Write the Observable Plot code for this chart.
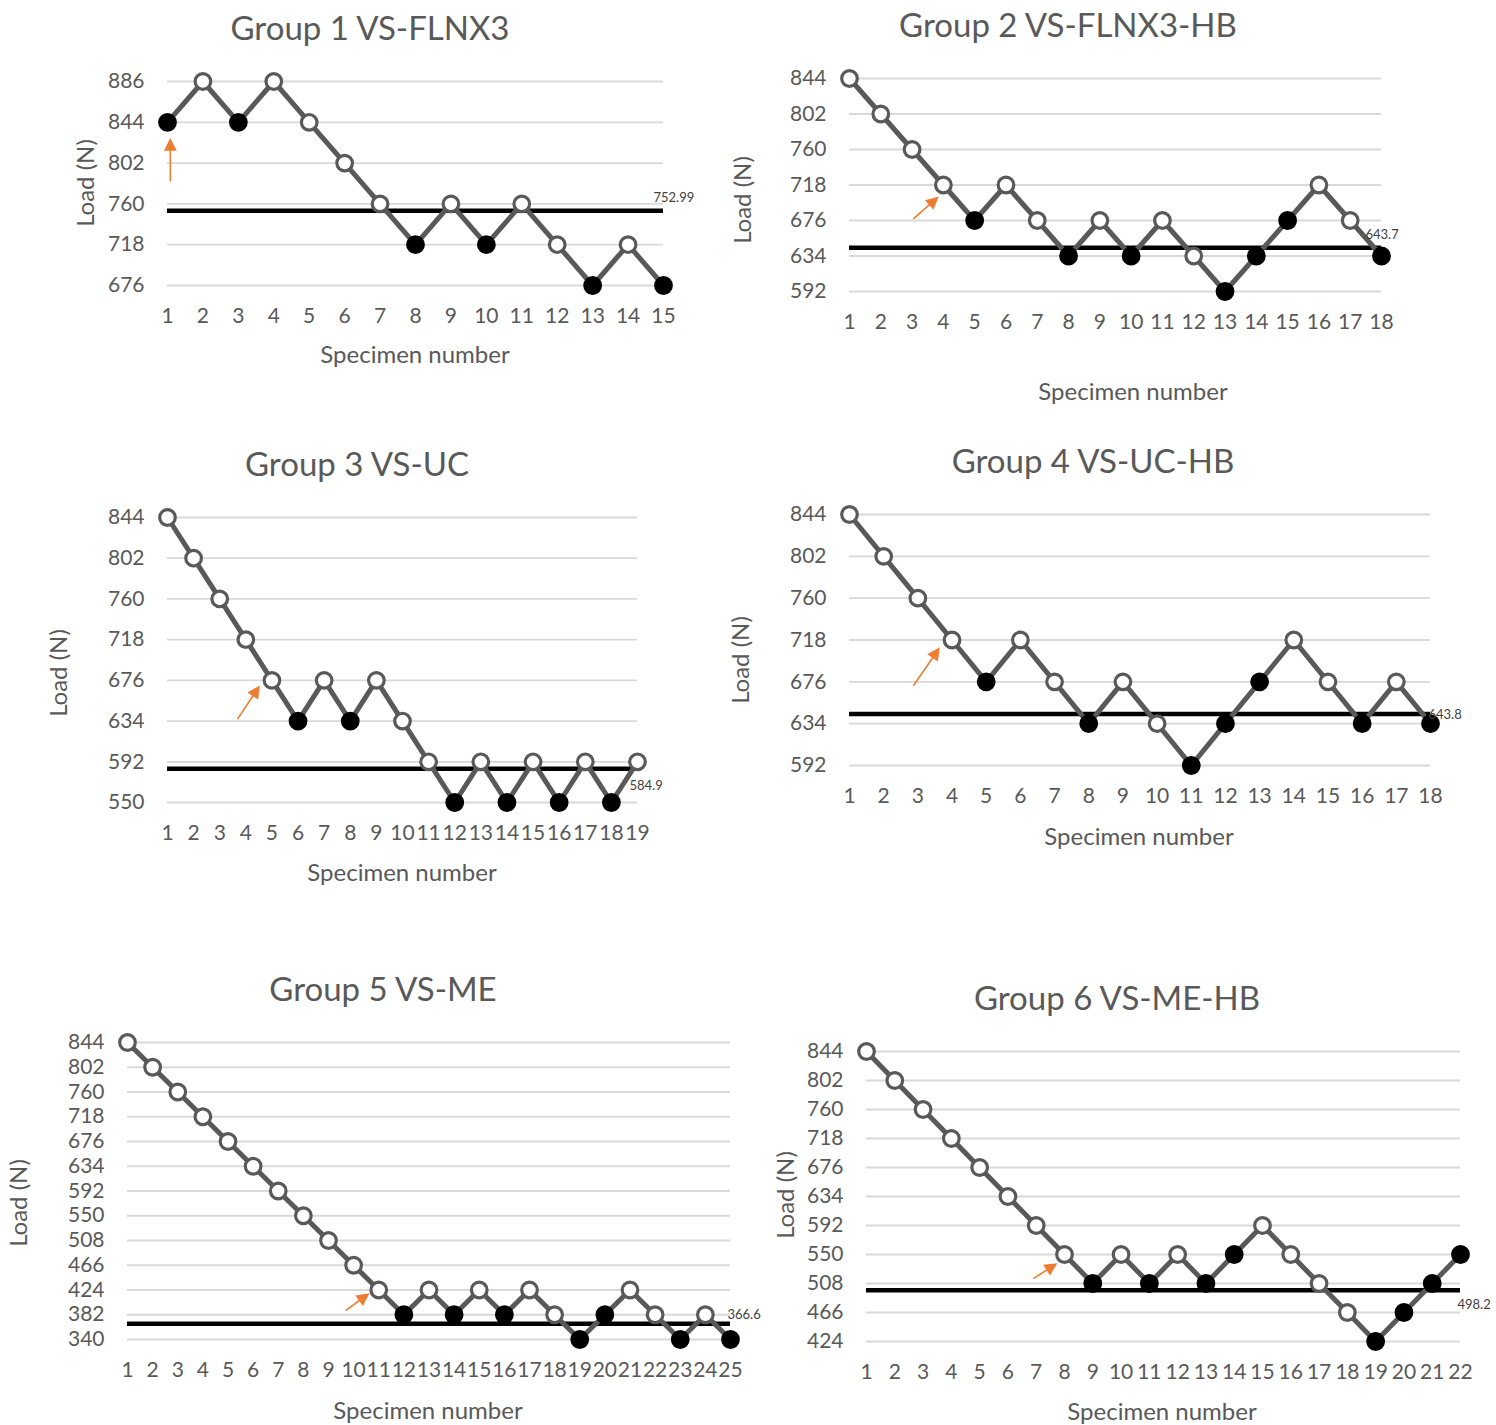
<!DOCTYPE html>
<html>
<head>
<meta charset="utf-8">
<script src="https://cdn.jsdelivr.net/npm/d3@7"></script>
<script src="https://cdn.jsdelivr.net/npm/@observablehq/plot@0.6"></script>
<style>
  html, body { margin: 0; padding: 0; background: #ffffff; }
  #fig { position: relative; width: 1496px; height: 1425px; overflow: hidden; font-family: Lato, "Open Sans", sans-serif; color: #595959; }
  .panel { position: absolute; }
  .panel svg { overflow: visible; max-width: none !important; display: block; }
  .txt { position: absolute; white-space: nowrap; transform: translate(-50%, -50%); line-height: 1; }
  .title { font-size: 33px; }
  .axlab { font-size: 24px; }
  .ylab { transform: translate(-50%, -50%) rotate(-90deg); }
</style>
</head>
<body>
<div id="fig"></div>
<script>
// ---------------- DATA ----------------
const titles = ["Group 1 VS-FLNX3", "Group 2 VS-FLNX3-HB", "Group 3 VS-UC", "Group 4 VS-UC-HB", "Group 5 VS-ME", "Group 6 VS-ME-HB"];
const xAxisTitle = "Specimen number";
const yAxisTitle = "Load (N)";

const g1Load  = [844, 886, 844, 886, 844, 802, 760, 718, 760, 718, 760, 718, 676, 718, 676];
const g1Solid = [1, 0, 1, 0, 0, 0, 0, 1, 0, 1, 0, 0, 1, 0, 1];
const g1Mean  = 752.99;
const g1Ticks = [676, 718, 760, 802, 844, 886];
const g1Arrow = [1.08, 783, 1.08, 822];

const g2Load  = [844, 802, 760, 718, 676, 718, 676, 634, 676, 634, 676, 634, 592, 634, 676, 718, 676, 634];
const g2Solid = [0, 0, 0, 0, 1, 0, 0, 1, 0, 1, 0, 0, 1, 1, 1, 0, 0, 1];
const g2Mean  = 643.7;
const g2Ticks = [592, 634, 676, 718, 760, 802, 844];
const g2Arrow = [3.04, 678, 3.72, 700];

const g3Load  = [844, 802, 760, 718, 676, 634, 676, 634, 676, 634, 592, 550, 592, 550, 592, 550, 592, 550, 592];
const g3Solid = [0, 0, 0, 0, 0, 1, 0, 1, 0, 0, 0, 1, 0, 1, 0, 1, 0, 1, 0];
const g3Mean  = 584.9;
const g3Ticks = [550, 592, 634, 676, 718, 760, 802, 844];
const g3Arrow = [3.68, 636, 4.42, 666];

const g4Load  = [844, 802, 760, 718, 676, 718, 676, 634, 676, 634, 592, 634, 676, 718, 676, 634, 676, 634];
const g4Solid = [0, 0, 0, 0, 1, 0, 0, 1, 0, 0, 1, 1, 1, 0, 0, 1, 0, 1];
const g4Mean  = 643.8;
const g4Ticks = [592, 634, 676, 718, 760, 802, 844];
const g4Arrow = [2.87, 672, 3.55, 706];

const g5Load  = [844, 802, 760, 718, 676, 634, 592, 550, 508, 466, 424, 382, 424, 382, 424, 382, 424, 382, 340, 382, 424, 382, 340, 382, 340];
const g5Solid = [0, 0, 0, 0, 0, 0, 0, 0, 0, 0, 0, 1, 0, 1, 0, 1, 0, 0, 1, 1, 0, 0, 1, 0, 1];
const g5Mean  = 366.6;
const g5Ticks = [340, 382, 424, 466, 508, 550, 592, 634, 676, 718, 760, 802, 844];
const g5Arrow = [9.68, 389, 10.45, 413];

const g6Load  = [844, 802, 760, 718, 676, 634, 592, 550, 508, 550, 508, 550, 508, 550, 592, 550, 508, 466, 424, 466, 508, 550];
const g6Solid = [0, 0, 0, 0, 0, 0, 0, 0, 1, 0, 1, 0, 1, 1, 0, 0, 0, 0, 1, 1, 1, 1];
const g6Mean  = 498.2;
const g6Ticks = [424, 466, 508, 550, 592, 634, 676, 718, 760, 802, 844];
const g6Arrow = [6.9, 515, 7.58, 533];

// ---------------- LAYOUT (pixel positions of each panel) ----------------
const layout = [
  {x0: 167, x1: 663,  yTop: 81,   yBot: 285,  title: [370, 27],   ylab: [85, 183],   xlab: [415, 354],   mdx: -10, mdy: -13},
  {x0: 849, x1: 1381, yTop: 78,   yBot: 291,  title: [1068, 24],  ylab: [742, 200],  xlab: [1133, 391],  mdx: -16, mdy: -13},
  {x0: 167, x1: 637,  yTop: 517,  yBot: 802,  title: [357, 463],  ylab: [58, 673],   xlab: [402, 872],   mdx: -8,  mdy: 17},
  {x0: 849, x1: 1430, yTop: 514,  yBot: 765,  title: [1093, 460], ylab: [740, 660],  xlab: [1139, 836],  mdx: -2,  mdy: 1},
  {x0: 127, x1: 730,  yTop: 1042, yBot: 1339, title: [383, 988],  ylab: [18, 1203],  xlab: [428, 1410],  mdx: -3,  mdy: -9},
  {x0: 866, x1: 1460, yTop: 1051, yBot: 1341, title: [1117, 997], ylab: [785, 1195], xlab: [1162, 1411], mdx: -3,  mdy: 15}
];

const groups = [
  {load: g1Load, solid: g1Solid, mean: g1Mean, ticks: g1Ticks, arrow: g1Arrow, meanText: "752.99"},
  {load: g2Load, solid: g2Solid, mean: g2Mean, ticks: g2Ticks, arrow: g2Arrow, meanText: "643.7"},
  {load: g3Load, solid: g3Solid, mean: g3Mean, ticks: g3Ticks, arrow: g3Arrow, meanText: "584.9"},
  {load: g4Load, solid: g4Solid, mean: g4Mean, ticks: g4Ticks, arrow: g4Arrow, meanText: "643.8"},
  {load: g5Load, solid: g5Solid, mean: g5Mean, ticks: g5Ticks, arrow: g5Arrow, meanText: "366.6"},
  {load: g6Load, solid: g6Solid, mean: g6Mean, ticks: g6Ticks, arrow: g6Arrow, meanText: "498.2"}
];

const ORANGE = "#ED7D31";
const LINE = "#595959";
const GRID = "#d9d9d9";

function filledHead(color) {
  const ns = "http://www.w3.org/2000/svg";
  const m = document.createElementNS(ns, "marker");
  m.setAttribute("viewBox", "-5 -5 10 10");
  m.setAttribute("markerWidth", "10");
  m.setAttribute("markerHeight", "10");
  m.setAttribute("orient", "auto");
  m.setAttribute("overflow", "visible");
  const p = document.createElementNS(ns, "path");
  p.setAttribute("d", "M-4.5,-4L3.5,0L-4.5,4Z");
  p.setAttribute("fill", color);
  p.setAttribute("stroke", "none");
  m.appendChild(p);
  return m;
}

function arrowMark(a) {
  const d = [{x1: a[0], y1: a[1], x2: a[2], y2: a[3]}];
  try {
    return Plot.link(d, {x1: "x1", y1: "y1", x2: "x2", y2: "y2", stroke: ORANGE, strokeWidth: 1.6, markerEnd: filledHead});
  } catch (e) {
    return Plot.arrow(d, {x1: "x1", y1: "y1", x2: "x2", y2: "y2", stroke: ORANGE, strokeWidth: 1.8, headLength: 10, headAngle: 70});
  }
}

const fig = document.getElementById("fig");
const ML = 60, MR = 80, MT = 20, MB = 50;

groups.forEach((g, k) => {
  const L = layout[k];
  const n = g.load.length;
  const data = g.load.map((v, i) => ({spec: i + 1, load: v, solid: g.solid[i] === 1}));
  const specs = data.map(d => d.spec);
  const yMin = d3.min(g.ticks), yMax = d3.max(g.ticks);
  const W = L.x1 - L.x0 + ML + MR;
  const H = L.yBot - L.yTop + MT + MB;

  const chart = Plot.plot({
    width: W,
    height: H,
    marginLeft: ML, marginRight: MR, marginTop: MT, marginBottom: MB,
    style: {fontFamily: "Lato, 'Open Sans', sans-serif", fontSize: "21px", color: LINE, background: "transparent", overflow: "visible"},
    x: {domain: [1, n], ticks: specs, tickFormat: d => String(d), tickSize: 0, tickPadding: 23, label: null},
    y: {domain: [yMin, yMax], ticks: g.ticks, tickFormat: d => String(d), tickSize: 0, tickPadding: 23, label: null},
    marks: [
      Plot.gridY(g.ticks, {stroke: GRID, strokeOpacity: 1, strokeWidth: 1.8}),
      Plot.ruleY([g.mean], {stroke: "#000000", strokeWidth: 4.5}),
      Plot.line(data, {x: "spec", y: "load", stroke: LINE, strokeWidth: 5, strokeLinejoin: "miter"}),
      Plot.dot(data, {x: "spec", y: "load", r: 7.8,
        fill: d => d.solid ? "#000000" : "#ffffff",
        stroke: d => d.solid ? "#000000" : LINE,
        strokeWidth: 3.2}),
      Plot.text([g.mean], {x: n, y: d => d, text: () => g.meanText, textAnchor: "start", dx: L.mdx, dy: L.mdy, fontSize: 13, fill: "#404040"}),
      arrowMark(g.arrow)
    ]
  });

  const panel = document.createElement("div");
  panel.className = "panel";
  panel.style.left = (L.x0 - ML) + "px";
  panel.style.top = (L.yTop - MT) + "px";
  panel.style.width = W + "px";
  panel.style.height = H + "px";
  chart.style.maxWidth = "none";
  chart.setAttribute("width", W);
  chart.setAttribute("height", H);
  panel.appendChild(chart);
  fig.appendChild(panel);

  const t = document.createElement("div");
  t.className = "txt title";
  t.style.left = L.title[0] + "px"; t.style.top = L.title[1] + "px";
  t.textContent = titles[k];
  fig.appendChild(t);

  const yl = document.createElement("div");
  yl.className = "txt axlab ylab";
  yl.style.left = L.ylab[0] + "px"; yl.style.top = L.ylab[1] + "px";
  yl.textContent = yAxisTitle;
  fig.appendChild(yl);

  const xl = document.createElement("div");
  xl.className = "txt axlab";
  xl.style.left = L.xlab[0] + "px"; xl.style.top = L.xlab[1] + "px";
  xl.textContent = xAxisTitle;
  fig.appendChild(xl);
});
</script>
</body>
</html>
